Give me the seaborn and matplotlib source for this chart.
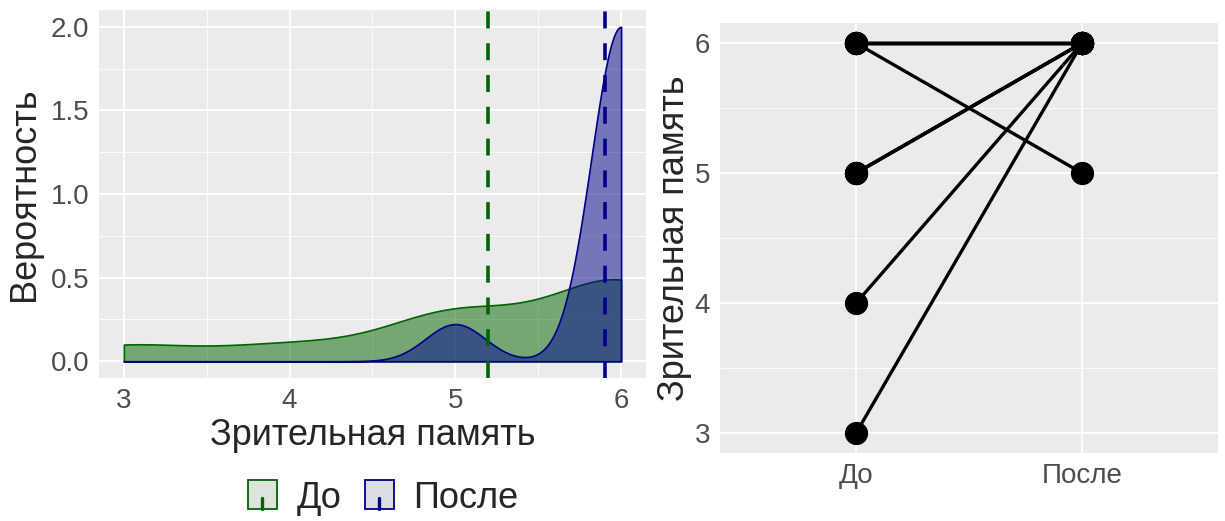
import numpy as np
import pandas as pd
import matplotlib
matplotlib.use("Agg")
import matplotlib.pyplot as plt
from matplotlib.patches import Rectangle
from matplotlib.lines import Line2D
from matplotlib.legend_handler import HandlerBase
import seaborn as sns

# Paired scores for visual memory, before and after
subject = [1, 2, 3, 4, 5, 6, 7, 8, 9, 10]
before = [6, 6, 6, 6, 6, 5, 5, 5, 4, 3]
after = [6, 6, 6, 6, 5, 6, 6, 6, 6, 6]
groups = ["До", "После"]
group_colors = ["#006400", "#00008B"]
xlabel = "Зрительная память"
ylabel_density = "Вероятность"

sns.set_theme(style="darkgrid")
plt.rcParams["font.family"] = ["Liberation Sans", "DejaVu Sans"]

PANEL = "#EBEBEB"
TICK_COL = "#4D4D4D"
TICK_SIZE = 20
TITLE_SIZE = 26


def bw_nrd0(x):
    """Silverman's rule of thumb, as used by R's density()."""
    x = np.asarray(x, float)
    hi = np.std(x, ddof=1)
    q75, q25 = np.percentile(x, [75, 25])
    lo = min(hi, (q75 - q25) / 1.34)
    if lo == 0:
        lo = hi
    return 0.9 * lo * len(x) ** -0.2


long = pd.DataFrame({
    "subject": subject * 2,
    "time": [groups[0]] * len(before) + [groups[1]] * len(after),
    "score": before + after,
})
lo_all, hi_all = long["score"].min(), long["score"].max()

fig = plt.figure(figsize=(12.25, 5.21), dpi=100)
ax1 = fig.add_axes([0.0808, 0.2745, 0.4465, 0.7063])
ax2 = fig.add_axes([0.5878, 0.1306, 0.4065, 0.8243])

for ax in (ax1, ax2):
    ax.set_facecolor(PANEL)
    for s in ax.spines.values():
        s.set_visible(False)
    ax.grid(which="major", color="white", lw=1.3)
    ax.grid(which="minor", color="white", lw=0.6)
    ax.set_axisbelow(True)
    ax.tick_params(which="major", length=4, width=1.0, color="#333333",
                   labelcolor=TICK_COL, labelsize=TICK_SIZE, pad=3)
    ax.tick_params(which="minor", length=0)

# ---- density panel: each group estimated over the full data range ----
for g, vals, col in zip(groups, [before, after], group_colors):
    sd = np.std(vals, ddof=1)
    sns.kdeplot(x=vals, ax=ax1, fill=True, cut=50, clip=(lo_all, hi_all),
                gridsize=512, bw_method=bw_nrd0(vals) / sd,
                facecolor=matplotlib.colors.to_rgba(col, 0.5),
                edgecolor=col, linewidth=1.2)
for vals, col in zip([before, after], group_colors):
    ax1.axvline(np.mean(vals), color=col, lw=2.6, ls=(0, (4.7, 4.1)), zorder=5)

ax1.set_xlim(2.85, 6.15)
ax1.set_ylim(-0.1, 2.1)
ax1.set_xticks([3, 4, 5, 6])
ax1.set_xticks([3.5, 4.5, 5.5], minor=True)
ax1.set_yticks([0, 0.5, 1.0, 1.5, 2.0])
ax1.set_yticks([0.25, 0.75, 1.25, 1.75], minor=True)
ax1.yaxis.set_major_formatter(matplotlib.ticker.FormatStrFormatter("%.1f"))
ax1.set_xlabel(xlabel, fontsize=TITLE_SIZE, labelpad=3)
ax1.set_ylabel(ylabel_density, fontsize=TITLE_SIZE, labelpad=6)


class KeyHandler(HandlerBase):
    def create_artists(self, legend, orig, xd, yd, w, h, fs, trans):
        col = orig.get_color()
        light = matplotlib.colors.to_rgba(col, 0.06)
        side = h * 1.15
        x0 = xd + (w - side) / 2
        y0 = yd + (h - side) / 2
        rect = Rectangle((x0, y0), side, side, facecolor=PANEL,
                         edgecolor=col, lw=1.3, transform=trans)
        tint = Rectangle((x0, y0), side, side, facecolor=light,
                         edgecolor="none", transform=trans)
        ln = Line2D([x0 + side / 2] * 2, [y0, y0 + side * 0.4],
                    color=col, lw=2.4, transform=trans)
        return [rect, tint, ln]


handles = [Line2D([], [], color=c) for c in group_colors]
fig.legend(handles, groups, handler_map={Line2D: KeyHandler()},
           loc="center", bbox_to_anchor=(0.312, 0.044), ncol=2, frameon=False,
           fontsize=TITLE_SIZE, handlelength=0.9, handletextpad=0.5,
           columnspacing=0.6)

# ---- paired panel ----
long["pos"] = long["time"].map({g: i for i, g in enumerate(groups)})
sns.lineplot(data=long, x="pos", y="score", units="subject", estimator=None,
             color="black", lw=2.4, ax=ax2, legend=False)
sns.scatterplot(data=long, x="pos", y="score", color="black", s=280,
                edgecolor="black", linewidth=0, ax=ax2, legend=False, zorder=4)
ax2.set_xlim(-0.6, 1.6)
ax2.set_ylim(2.85, 6.15)
ax2.set_xticks([0, 1])
ax2.set_xticklabels(groups)
ax2.set_yticks([3, 4, 5, 6])
ax2.set_yticks([3.5, 4.5, 5.5], minor=True)
ax2.grid(which="minor", axis="x", visible=False)
ax2.set_xlabel("")
ax2.set_ylabel(xlabel, fontsize=TITLE_SIZE, labelpad=2)

fig.savefig("out.png", dpi=100, facecolor="white")
